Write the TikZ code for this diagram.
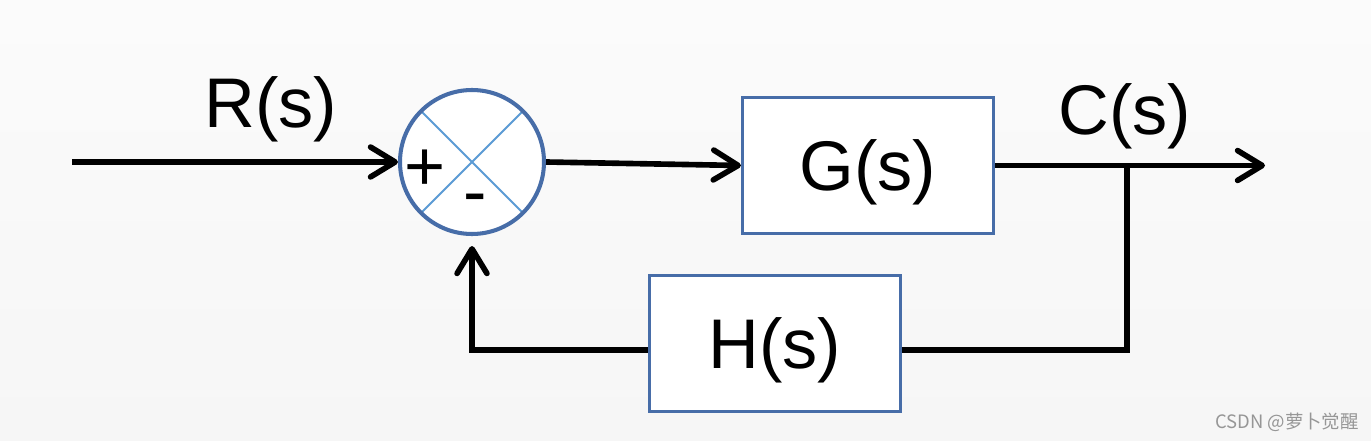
\documentclass[tikz,border=0pt]{standalone}
\usepackage{fontspec}
\setmainfont{Liberation Sans}
\newfontfamily\cjkfont{Noto Sans CJK SC}
\usetikzlibrary{arrows.meta}

\definecolor{bgtop}{RGB}{251,251,251}
\definecolor{bgbottom}{RGB}{246,246,246}
\definecolor{boxblue}{RGB}{71,109,168}
\definecolor{crossblue}{RGB}{91,155,213}
\definecolor{markgray}{RGB}{150,150,150}

\tikzset{
  signal/.style={line width=3.2pt,-{Straight Barb[length=14pt,width=17pt,round]}},
  wire/.style={line width=3.2pt},
  block/.style={draw=boxblue,fill=white,line width=1.8pt,minimum width=5.02cm,
    minimum height=2.72cm,inner sep=0pt,font=\fontsize{40}{48}\selectfont,
    text height=28.6pt,text depth=0pt},
  sumnode/.style={circle,draw=boxblue,fill=white,line width=2.3pt,minimum size=2.88cm,
    inner sep=0pt,
    path picture={\draw[crossblue,line width=1.1pt]
      (path picture bounding box.north west) -- (path picture bounding box.south east)
      (path picture bounding box.north east) -- (path picture bounding box.south west);}},
  txt/.style={font=\fontsize{40}{48}\selectfont,inner sep=0pt,anchor=base},
}

\begin{document}
\begin{tikzpicture}
  \shade[top color=bgtop,bottom color=bgbottom] (0,0) rectangle (27.42,8.8);

  %Sum junction
  \node[sumnode] (sum) at (9.44,5.56) {};
  \node[txt] (plus) at (8.5,4.98) {+};
  \node[txt] (minus) at (9.5,4.48) {-};

  %Blocks
  \node[block] (G) at (17.36,5.49) {G(s)};
  \node[block] (H) at (15.5,1.93) {H(s)};

  \coordinate (in) at (1.44,5.56);
  \coordinate (branch) at (22.54,5.49);
  \coordinate (out) at (25.3,5.49);

  %Signals
  \draw[signal] (in) -- (sum.west);
  \draw[signal] (sum.east) -- (G.west);
  \draw[signal] (G.east) -- (out);
  \draw[wire] (branch) |- ([yshift=-0.13cm]H.east);
  \draw[signal,shorten >=0.2cm] ([yshift=-0.13cm]H.west) -| (sum.south);

  %Labels
  \node[txt] (Rlabel) at (5.42,6.24) {R(s)};
  \node[txt] (Clabel) at (22.5,6.10) {C(s)};
  \node[font=\cjkfont\fontsize{10.5}{12}\selectfont,text=markgray] (mark) at (25.74,0.36) {CSDN @萝卜觉醒};
\end{tikzpicture}
\end{document}
